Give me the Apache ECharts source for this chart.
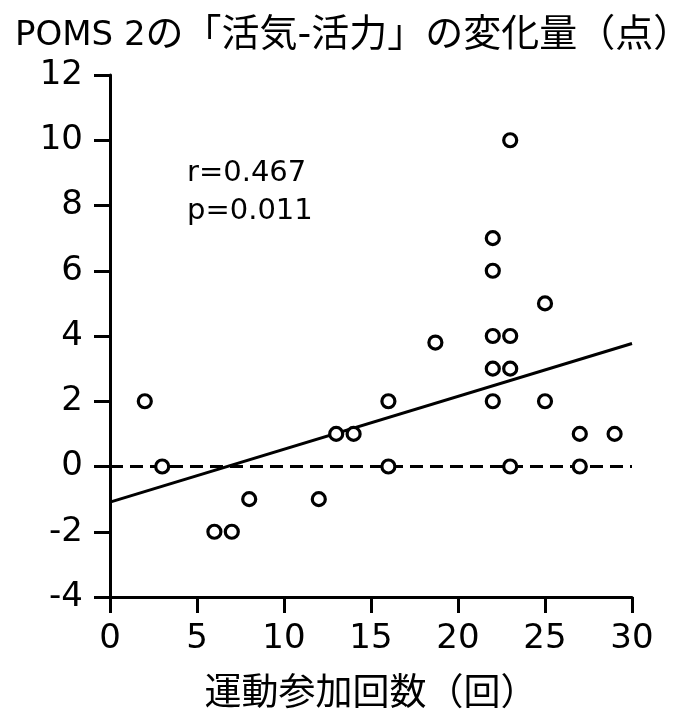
<!DOCTYPE html>
<html><head><meta charset="utf-8">
<script src="https://cdn.jsdelivr.net/npm/echarts@6/dist/echarts.min.js"></script>
<style>html,body{margin:0;padding:0;background:#fff}#c{width:674px;height:712px}</style>
</head><body><div id="c"></div>
<script>
const titleLatin = 'POMS 2';
const titleRest = 'の「活気-活力」の変化量（点）';
const xAxisName = '運動参加回数（回）';
const xTicks = {min: 0, max: 30, interval: 5};
const yTicks = {min: -4, max: 12, interval: 2};
const sessions = [2, 3, 6, 7, 8, 12, 13, 14, 16, 16, 18.7, 22, 22, 22, 22, 22, 23, 23, 23, 23, 25, 25, 27, 27, 29];
const vigorChange = [2, 0, -2, -2, -1, -1, 1, 1, 2, 0, 3.8, 7, 6, 4, 3, 2, 10, 4, 3, 0, 5, 2, 1, 0, 1];
const fitLine = [[0, -1.09], [30, 3.77]];
const zeroLine = [[0, 0], [30, 0]];
const statsText = ['r=0.467', 'p=0.011'];

const FONT = '"DejaVu Sans", "Noto Sans CJK JP", sans-serif';
const chart = echarts.init(document.getElementById('c'), null, {renderer: 'canvas'});
chart.setOption({
  animation: false,
  backgroundColor: '#fff',
  title: {
    text: '{a|' + titleLatin + '}{b|' + titleRest + '}', left: 10, top: 12,
    textStyle: {
      fontFamily: FONT, fontWeight: 'normal', color: '#000',
      rich: {
        a: {fontFamily: FONT, fontSize: 34, color: '#000'},
        b: {fontFamily: FONT, fontSize: 38, color: '#000'}
      }
    }
  },
  grid: {left: 110, right: 42, top: 75, bottom: 115, containLabel: false, outerBoundsMode: 'none'},
  xAxis: {
    type: 'value', min: xTicks.min, max: xTicks.max, interval: xTicks.interval,
    name: xAxisName, nameLocation: 'middle', nameGap: 80,
    nameTextStyle: {fontFamily: FONT, fontSize: 37, color: '#000'},
    axisLine: {onZero: false, lineStyle: {color: '#000', width: 3}},
    axisTick: {show: true, length: 16, lineStyle: {color: '#000', width: 3}},
    axisLabel: {fontFamily: FONT, fontSize: 34, color: '#000', margin: 25},
    splitLine: {show: false}
  },
  yAxis: {
    type: 'value', min: yTicks.min, max: yTicks.max, interval: yTicks.interval,
    axisLine: {show: true, onZero: false, lineStyle: {color: '#000', width: 3}},
    axisTick: {show: true, length: 16, lineStyle: {color: '#000', width: 3}},
    axisLabel: {fontFamily: FONT, fontSize: 34, color: '#000', margin: 27},
    splitLine: {show: false}
  },
  graphic: [{
    type: 'text', left: 187, top: 154,
    style: {text: statsText.join('\n'), fontFamily: FONT, fontSize: 29, lineHeight: 38, fill: '#000'}
  }],
  series: [
    {
      type: 'line', data: zeroLine, symbol: 'none', silent: true,
      lineStyle: {color: '#000', width: 3, type: [13, 7]}, z: 2
    },
    {
      type: 'line', data: fitLine, symbol: 'none', silent: true,
      lineStyle: {color: '#000', width: 3}, z: 3
    },
    {
      type: 'scatter', data: sessions.map((x, i) => [x, vigorChange[i]]),
      symbol: 'circle', symbolSize: 13,
      itemStyle: {color: '#fff', borderColor: '#000', borderWidth: 3.2, opacity: 1}, z: 5
    }
  ]
});
</script></body></html>
